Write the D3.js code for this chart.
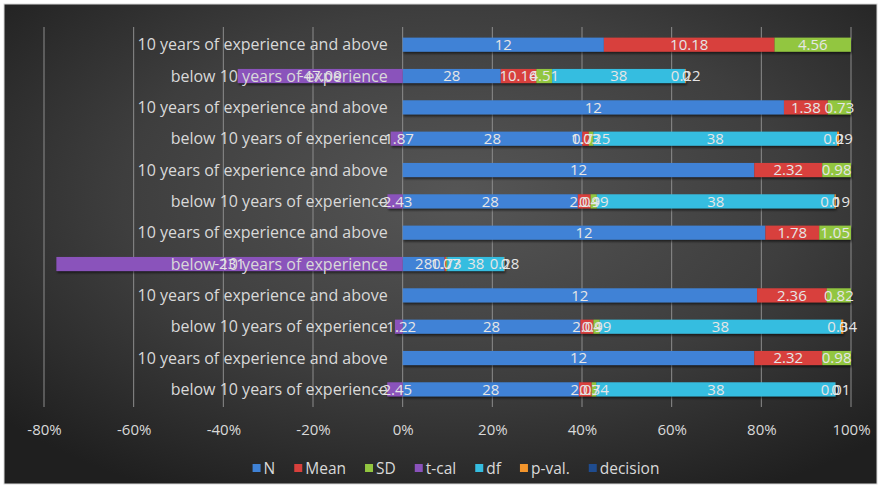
<!DOCTYPE html>
<html>
<head>
<meta charset="utf-8">
<script src="https://cdn.jsdelivr.net/npm/d3@7"></script>
<style>
  html, body { margin: 0; padding: 0; background: #ffffff; }
  svg { display: block; font-family: "Open Sans", Lato, "DejaVu Sans", sans-serif; }
</style>
</head>
<body>
<svg id="chart" width="885" height="492"></svg>
<script>
// Rows listed from top to bottom.
const categories = [
  "10 years of experience and above",
  "below 10 years of experience",
  "10 years of experience and above",
  "below 10 years of experience",
  "10 years of experience and above",
  "below 10 years of experience",
  "10 years of experience and above",
  "below 10 years of experience",
  "10 years of experience and above",
  "below 10 years of experience",
  "10 years of experience and above",
  "below 10 years of experience"
];
const seriesNames = ["N", "Mean", "SD", "t-cal", "df", "p-val.", "decision"];
const nValues        = [12, 28, 12, 28, 12, 28, 12, 28, 12, 28, 12, 28];
const meanValues     = [10.18, 10.16, 1.38, 1.03, 2.32, 2.04, 1.78, 1.07, 2.36, 2.04, 2.32, 2.03];
const sdValues       = [4.56, 4.51, 0.73, 0.725, 0.98, 0.99, 1.05, 0.73, 0.82, 0.99, 0.98, 0.74];
const tcalValues     = [null, -47.09, null, -1.87, null, -2.43, null, -231, null, -1.22, null, -2.45];
const dfValues       = [null, 38, null, 38, null, 38, null, 38, null, 38, null, 38];
const pValues        = [null, 0.22, null, 0.29, null, 0.19, null, 0.28, null, 0.34, null, 0.01];
const decisionValues = [null, 0, null, 0, null, 0, null, 0, null, 0, null, 0];
const tickValues = [-0.8, -0.6, -0.4, -0.2, 0, 0.2, 0.4, 0.6, 0.8, 1.0];
const tickLabels = ["-80%", "-60%", "-40%", "-20%", "0%", "20%", "40%", "60%", "80%", "100%"];

const colors = {
  "N": "#3f82d6",
  "Mean": "#d8403c",
  "SD": "#92c640",
  "t-cal": "#8a52bb",
  "df": "#35bde0",
  "p-val.": "#f3952c",
  "decision": "#1f4c8f"
};

const seriesArrays = {
  "N": nValues, "Mean": meanValues, "SD": sdValues, "t-cal": tcalValues,
  "df": dfValues, "p-val.": pValues, "decision": decisionValues
};

// 100% stacking: each value is a share of the row's total absolute size.
const rows = categories.map((c, i) => {
  const raw = {};
  seriesNames.forEach(s => raw[s] = seriesArrays[s][i]);
  const total = d3.sum(seriesNames, s => Math.abs(raw[s] || 0));
  const row = { index: i, category: c, raw };
  seriesNames.forEach(s => row[s] = (raw[s] || 0) / total);
  return row;
});

const stack = d3.stack().keys(seriesNames).offset(d3.stackOffsetDiverging);
const layers = stack(rows);

// Zero-valued segments sit at the current end of the positive stack.
const posTop = rows.map(() => 0);
layers.forEach(layer => {
  layer.forEach((d, j) => {
    const v = d.data[layer.key];
    if (v > 0) posTop[j] = d[1];
    else if (v === 0) { d[0] = posTop[j]; d[1] = posTop[j]; }
  });
});

const svg = d3.select("#chart");

// Chart background
const defs = svg.append("defs");
const bg = defs.append("radialGradient").attr("id", "bgGrad")
  .attr("cx", "52%").attr("cy", "40%").attr("r", "70%");
bg.append("stop").attr("offset", "0%").attr("stop-color", "#565656");
bg.append("stop").attr("offset", "55%").attr("stop-color", "#3e3e3e");
bg.append("stop").attr("offset", "100%").attr("stop-color", "#1f1f1f");

const shadow = defs.append("filter").attr("id", "barShadow")
  .attr("x", "-5%").attr("y", "-30%").attr("width", "110%").attr("height", "180%");
shadow.append("feDropShadow").attr("dx", 1).attr("dy", 2).attr("stdDeviation", 1.2)
  .attr("flood-color", "#000").attr("flood-opacity", 0.55);

svg.append("rect").attr("x", 4).attr("y", 4).attr("width", 873).attr("height", 480)
  .attr("fill", "url(#bgGrad)").attr("stroke", "#d9d9d9").attr("stroke-width", 1);

const x = d3.scaleLinear().domain([-0.8, 1.0]).range([44, 851]);
const y = d3.scaleBand().domain(d3.range(categories.length))
  .range([29, 405]).paddingInner(0.55).paddingOuter(0.275);

// Vertical gridlines
svg.append("g").selectAll("line").data(tickValues).join("line")
  .attr("x1", d => x(d)).attr("x2", d => x(d))
  .attr("y1", 27).attr("y2", 407)
  .attr("stroke", "#8c8c8c").attr("stroke-width", 1);

// Bars
const barG = svg.append("g").attr("filter", "url(#barShadow)");
layers.forEach(layer => {
  barG.append("g").attr("fill", colors[layer.key])
    .selectAll("rect").data(layer).join("rect")
    .attr("x", d => x(Math.min(d[0], d[1])))
    .attr("width", d => Math.abs(x(d[1]) - x(d[0])))
    .attr("y", (d, i) => y(i))
    .attr("height", y.bandwidth());
});

// Category labels beside the zero line
svg.append("g").selectAll("text").data(categories).join("text")
  .attr("x", x(0) - 15)
  .attr("y", (d, i) => y(i) + y.bandwidth() / 2)
  .attr("dy", "0.36em")
  .attr("text-anchor", "end")
  .attr("fill", "#d9d9d9")
  .attr("font-size", 16)
  .text(d => d);

// Data labels
const labelG = svg.append("g");
layers.forEach(layer => {
  labelG.append("g").selectAll("text")
    .data(layer.filter(d => d.data.raw[layer.key] !== null))
    .join("text")
    .attr("x", d => (x(d[0]) + x(d[1])) / 2)
    .attr("y", d => y(d.data.index) + y.bandwidth() / 2)
    .attr("dy", "0.36em")
    .attr("text-anchor", "middle")
    .attr("fill", "#e6e6e6")
    .attr("font-size", 15)
    .text(d => String(d.data.raw[layer.key]));
});

// Horizontal axis
const axis = d3.axisBottom(x).tickValues(tickValues)
  .tickFormat((d, i) => tickLabels[i]).tickSize(0).tickPadding(0);
const axG = svg.append("g").attr("transform", "translate(0,424)").call(axis);
axG.select(".domain").remove();
axG.selectAll("text").attr("fill", "#d9d9d9").attr("font-size", 15)
  .attr("font-family", "'Open Sans', sans-serif");

// Legend
const legend = svg.append("g");
let lx = 0;
seriesNames.forEach(s => {
  const item = legend.append("g").attr("transform", `translate(${lx},0)`);
  item.append("rect").attr("x", 0).attr("y", -4).attr("width", 8).attr("height", 8)
    .attr("fill", colors[s]);
  const t = item.append("text").attr("x", 11).attr("dy", "0.36em")
    .attr("fill", "#d9d9d9").attr("font-size", 15.5).text(s);
  lx += 11 + t.node().getComputedTextLength() + 19;
});
const legendW = lx - 19;
legend.attr("transform", `translate(${456 - legendW / 2},468)`);
</script>
</body>
</html>
